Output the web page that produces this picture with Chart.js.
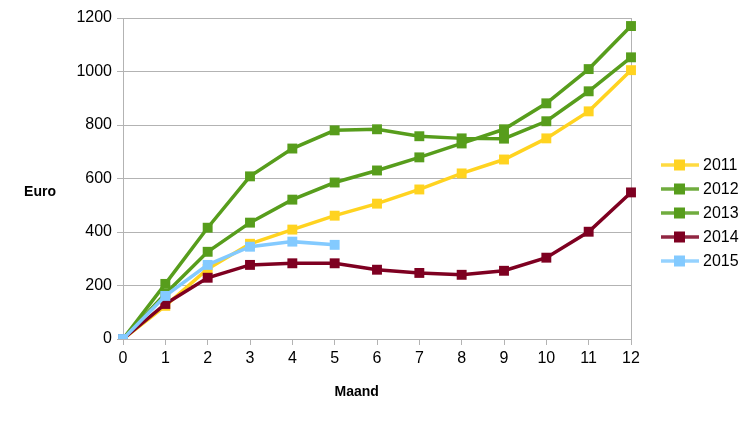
<!DOCTYPE html>
<html>
<head>
<meta charset="utf-8">
<script src="https://cdn.jsdelivr.net/npm/chart.js@4/dist/chart.umd.min.js"></script>
<style>
  html, body { margin: 0; padding: 0; background: #ffffff; }
  #wrap { width: 754px; height: 425px; position: relative; }
</style>
</head>
<body>
<div id="wrap"><canvas id="c" width="754" height="425"></canvas></div>
<script>
const months = ['0','1','2','3','4','5','6','7','8','9','10','11','12'];
const seriesNames = ['2011','2012','2013','2014','2015'];
const seriesColors = ['#FFD320','#579D1C','#579D1C','#7E0021','#83CAFF'];
const v2011 = [0, 124, 262, 356, 409, 461, 506, 559, 619, 671, 750, 851, 1005];
const v2012 = [0, 206, 416, 608, 712, 780, 784, 758, 750, 749, 814, 926, 1053];
const v2013 = [0, 169, 326, 435, 521, 585, 630, 679, 731, 784, 881, 1009, 1170];
const v2014 = [0, 131, 229, 277, 283, 283, 259, 247, 240, 255, 304, 401, 548];
const v2015 = [0, 161, 277, 345, 364, 352];
const yTicks = [0, 200, 400, 600, 800, 1000, 1200];
const yTitle = 'Euro';
const xTitle = 'Maand';

const allValues = [v2011, v2012, v2013, v2014, v2015];
const FONT = '"Liberation Sans", Arial, sans-serif';

const datasets = allValues.map((vals, i) => ({
  label: seriesNames[i],
  data: vals,
  borderColor: seriesColors[i],
  backgroundColor: seriesColors[i],
  borderWidth: 3.5,
  pointStyle: 'rect',
  pointRadius: 7,
  pointHoverRadius: 7,
  pointBorderWidth: 0,
  tension: 0,
  fill: false,
  order: allValues.length - 1 - i
}));

const overlay = {
  id: 'overlay',
  afterDraw(chart) {
    const ctx = chart.ctx;
    const ca = chart.chartArea;
    ctx.save();
    ctx.fillStyle = '#000000';
    ctx.font = 'bold 14px ' + FONT;
    ctx.textAlign = 'center';
    ctx.textBaseline = 'middle';
    ctx.fillText(yTitle, 40, (ca.top + ca.bottom) / 2 + 14);
    ctx.fillText(xTitle, ca.left + (ca.right - ca.left) * 0.46, 392);
    // legend
    const lx = ca.right + 30;
    const ly0 = 165;
    const step = 24;
    seriesNames.forEach((name, i) => {
      const y = ly0 + i * step;
      ctx.strokeStyle = seriesColors[i];
      ctx.globalAlpha = 0.85;
      ctx.lineWidth = 3.5;
      ctx.beginPath();
      ctx.moveTo(lx, y);
      ctx.lineTo(lx + 38, y);
      ctx.stroke();
      ctx.globalAlpha = 1;
      ctx.fillStyle = seriesColors[i];
      ctx.fillRect(lx + 13, y - 5.5, 11, 11);
      ctx.fillStyle = '#000000';
      ctx.font = '16px ' + FONT;
      ctx.textAlign = 'left';
      ctx.fillText(name, lx + 42, y + 1);
    });
    ctx.restore();
  }
};

new Chart(document.getElementById('c'), {
  type: 'line',
  data: { labels: months, datasets },
  options: {
    responsive: false,
    animation: false,
    events: [],
    layout: { padding: { top: 18, right: 123, bottom: 0, left: 0 } },
    plugins: { legend: { display: false }, tooltip: { enabled: false } },
    scales: {
      x: {
        type: 'category',
        offset: false,
        afterFit(scale) { scale.height = 425 - 339; },
        grid: {
          drawOnChartArea: true,
          color: (c) => (c.index === months.length - 1 ? '#b3b3b3' : 'rgba(0,0,0,0)'),
          tickColor: '#b3b3b3',
          tickLength: 6,
          lineWidth: 1
        },
        border: { display: true, color: '#b3b3b3', width: 1 },
        ticks: { color: '#000000', font: { family: FONT, size: 16 }, padding: 4, maxRotation: 0, autoSkip: false }
      },
      y: {
        min: 0,
        max: 1200,
        afterFit(scale) { scale.width = 123; },
        afterBuildTicks(scale) { scale.ticks = yTicks.map(v => ({ value: v })); },
        grid: { color: '#b3b3b3', tickColor: '#b3b3b3', tickLength: 6, lineWidth: 1 },
        border: { display: true, color: '#b3b3b3', width: 1 },
        ticks: { color: '#000000', font: { family: FONT, size: 16 }, padding: 5, callback: (v) => String(v) }
      }
    }
  },
  plugins: [overlay]
});
</script>
</body>
</html>
